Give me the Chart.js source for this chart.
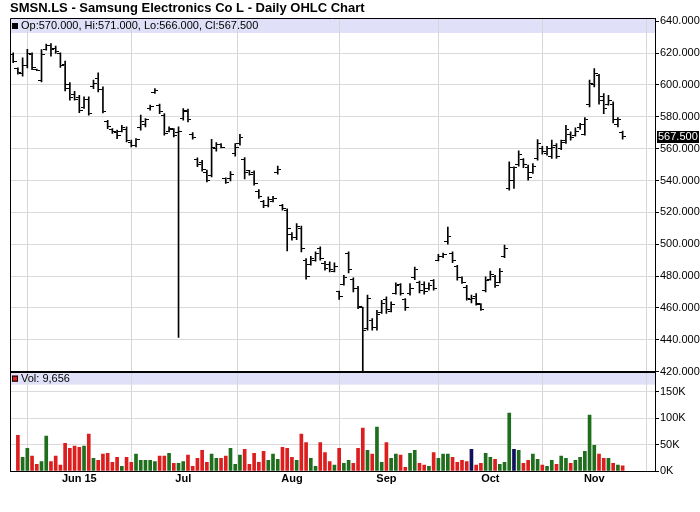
<!DOCTYPE html>
<html>
<head>
<meta charset="utf-8">
<title>SMSN.LS Daily OHLC</title>
<script src="https://cdn.jsdelivr.net/npm/chart.js@4.4.0/dist/chart.umd.min.js"></script>
<style>
    html, body { margin: 0; padding: 0; background: #fff; }
    #wrap { position: relative; width: 700px; height: 512px; }
</style>
</head>
<body>
<div id="wrap"><canvas id="ohlc"></canvas></div>
<script>
// trading days shown on the chart (LSE, 2015)
const dates = [
    "2015-05-11", "2015-05-12", "2015-05-13", "2015-05-14", "2015-05-15", "2015-05-18", "2015-05-19",
    "2015-05-20", "2015-05-21", "2015-05-22", "2015-05-26", "2015-05-27", "2015-05-28", "2015-05-29",
    "2015-06-01", "2015-06-02", "2015-06-03", "2015-06-04", "2015-06-05", "2015-06-08", "2015-06-09",
    "2015-06-10", "2015-06-11", "2015-06-12", "2015-06-15", "2015-06-16", "2015-06-17", "2015-06-18",
    "2015-06-19", "2015-06-22", "2015-06-23", "2015-06-24", "2015-06-25", "2015-06-26", "2015-06-29",
    "2015-06-30", "2015-07-01", "2015-07-02", "2015-07-03", "2015-07-06", "2015-07-07", "2015-07-08",
    "2015-07-09", "2015-07-10", "2015-07-13", "2015-07-14", "2015-07-15", "2015-07-16", "2015-07-17",
    "2015-07-20", "2015-07-21", "2015-07-22", "2015-07-23", "2015-07-24", "2015-07-27", "2015-07-28",
    "2015-07-29", "2015-07-30", "2015-07-31", "2015-08-03", "2015-08-04", "2015-08-05", "2015-08-06",
    "2015-08-07", "2015-08-10", "2015-08-11", "2015-08-12", "2015-08-13", "2015-08-14", "2015-08-17",
    "2015-08-18", "2015-08-19", "2015-08-20", "2015-08-21", "2015-08-24", "2015-08-25", "2015-08-26",
    "2015-08-27", "2015-08-28", "2015-09-01", "2015-09-02", "2015-09-03", "2015-09-04", "2015-09-07",
    "2015-09-08", "2015-09-09", "2015-09-10", "2015-09-11", "2015-09-14", "2015-09-15", "2015-09-16",
    "2015-09-17", "2015-09-18", "2015-09-21", "2015-09-22", "2015-09-23", "2015-09-24", "2015-09-25",
    "2015-09-28", "2015-09-29", "2015-09-30", "2015-10-01", "2015-10-02", "2015-10-05", "2015-10-06",
    "2015-10-07", "2015-10-08", "2015-10-09", "2015-10-12", "2015-10-13", "2015-10-14", "2015-10-15",
    "2015-10-16", "2015-10-19", "2015-10-20", "2015-10-21", "2015-10-22", "2015-10-23", "2015-10-26",
    "2015-10-27", "2015-10-28", "2015-10-29", "2015-10-30", "2015-11-02", "2015-11-03", "2015-11-04",
    "2015-11-05", "2015-11-06", "2015-11-09", "2015-11-10"
];

const opens = [
    619, 610, 607, 612, 619, 609.8, 603, 622.5, 625, 623,
    619.5, 613, 600, 594, 592, 586, 591, 599, 604, 597,
    577, 572, 570, 571, 572, 564, 562, 573, 575, 585,
    595.5, 587, 581, 571, 572, 570, 579, 583, 569, 553,
    551, 545, 543, 560, 562.5, 541, 541, 557, 563, 553,
    546, 545, 533, 527, 524, 527, 545, 524, 521, 506,
    504, 510, 490, 487.5, 490, 497, 488, 487, 483, 470,
    475, 494, 478, 472, 460, 447, 452, 448, 457, 465,
    458, 469, 474.5, 465, 469, 479, 476, 475, 472, 477,
    490, 492, 502, 494, 486, 479, 473, 465, 467, 462,
    471, 478, 480, 476, 492, 535, 540, 550, 553, 548,
    545, 554, 560, 557, 555, 562, 560, 565, 569, 568,
    573, 569, 588, 600, 606, 593, 588, 588, 575, 570
];
const highs = [
    620.1, 610.7, 617, 622.4, 620.1, 610, 622.2, 625.6, 626, 624.3,
    620.1, 614.9, 601.5, 596, 593.5, 592.5, 592.5, 603, 607.6, 598.8,
    577.8, 572.6, 571.6, 574.7, 573.7, 565.3, 566.3, 581, 578.9, 587.3,
    597.7, 587.9, 582, 573.7, 572.6, 573.7, 585.2, 584.8, 570.1, 554.2,
    552.7, 546.5, 565.9, 563.8, 563.2, 541.6, 545.6, 563.2, 568.9, 554.4,
    546.4, 546, 534.3, 527.6, 529.7, 530.1, 549, 525.1, 522.2, 507.3,
    513, 511.3, 491, 492.4, 495.2, 498.3, 489.3, 488.9, 488.3, 470.5,
    480.5, 495.2, 478.9, 473.6, 460.6, 468, 453.3, 458.5, 464.8, 466.9,
    463.8, 475.7, 475.3, 465.9, 475.3, 485.7, 476.8, 476.3, 475.7, 477.8,
    493.7, 494.5, 510.7, 495.2, 486.8, 479.5, 474.2, 468, 469, 462.7,
    479.5, 483.2, 480.5, 484.7, 499.4, 551.7, 548.5, 558.6, 553.8, 549.6,
    550.6, 565.7, 561.5, 561.5, 565.3, 563.2, 565.3, 574.7, 570.5, 573,
    575.8, 579.5, 603, 610.3, 606.7, 594.6, 593.5, 589.4, 579.5, 571
];
const lows = [
    614, 606.7, 605.5, 610.7, 609.6, 609, 601.9, 621.8, 618, 619.7,
    610.9, 596.2, 590.4, 590.4, 582.6, 585.2, 581, 597.7, 595.6, 582.4,
    572.6, 569.5, 566.3, 570.5, 564.2, 561.1, 561.1, 571.6, 573.7, 584.1,
    594.6, 582, 568.4, 570.5, 567.4, 441.5, 577.9, 576.8, 565.9, 548.6,
    545.8, 539.1, 542.3, 558.4, 560.5, 538.1, 539.8, 555.3, 562.2, 541,
    543.3, 537, 528.7, 523, 523.4, 526.6, 544, 521.3, 495.8, 502.5,
    502.9, 495.2, 478, 486.8, 489.3, 490, 483.7, 482.6, 482.6, 465.3,
    474.3, 482, 470.1, 459.6, 420.5, 446, 446, 446, 456.5, 456.5,
    457.5, 468.6, 468, 458.5, 468, 477.8, 469.4, 468.6, 471.1, 471.1,
    489.5, 491.5, 500, 488.4, 477.4, 475.3, 464.8, 463.1, 461.7, 458.5,
    470, 477.4, 472.8, 475.7, 491.6, 533.9, 535, 549, 548.1, 540.2,
    544.4, 552.7, 556.5, 555.9, 553.8, 553.8, 559.4, 563.2, 565.3, 567.8,
    572, 568.4, 586.2, 598.8, 587.9, 582, 587.3, 576.2, 573.7, 566
];
const closes = [
    615, 608, 612, 620, 611, 609.3, 619, 624.5, 622, 621,
    612, 598, 592, 591, 584, 591, 582, 601, 597, 583,
    574, 570.5, 568, 573, 565, 562, 565.5, 577, 578, 586.5,
    596.5, 583, 569.5, 572.5, 568, 571, 584, 578, 567, 550,
    547, 540, 561, 562.5, 561, 539, 544, 561, 567, 545,
    544, 538, 530, 524, 528, 529, 547, 522.5, 510, 504,
    511, 497, 480, 491, 494, 491, 485, 484, 486, 467,
    479, 484, 472, 461, 446, 466, 448, 456, 463, 459,
    462, 474, 469, 460, 472, 484, 471, 470, 474, 472,
    492, 493.5, 505, 490, 479, 476, 466, 466, 463, 459,
    477, 481, 474, 483, 497, 548, 548, 556, 550, 542,
    549, 563, 558, 560, 561, 555, 564, 572, 567, 571,
    575, 578, 601, 607, 590, 585, 590, 578, 578.5, 567.5
];
// first day has no volume bar
const volumes = [
    null, 67700, 26000, 43000, 28000, 12700, 18000, 66000, 18000, 28000,
    11000, 52500, 43000, 47000, 45000, 47000, 70000, 24000, 20000, 32000,
    33500, 16500, 26000, 9000, 26000, 16500, 32000, 20000, 20000, 20000,
    18000, 28000, 28000, 33500, 14500, 14500, 18000, 30000, 9000, 24000,
    39000, 16500, 32000, 24000, 24000, 28000, 43000, 12700, 30000, 41000,
    12700, 33500, 16500, 37000, 20000, 32000, 22000, 45000, 43000, 26000,
    20000, 70000, 54000, 24000, 9000, 54000, 35000, 18000, 11000, 43000,
    14500, 20000, 14500, 43000, 81000, 39000, 32000, 83000, 16500, 54000,
    24000, 32000, 30000, 7000, 33500, 39000, 14500, 11000, 9000, 35000,
    24000, 32000, 32000, 26000, 16500, 20000, 18000, 41000, 11000, 14500,
    33500, 26000, 22000, 12700, 16500, 109500, 41000, 39000, 14500, 20000,
    32000, 22000, 11000, 9000, 20000, 12700, 28000, 24000, 14500, 20000,
    26000, 37000, 105700, 48700, 32000, 24000, 24000, 14500, 11000, 9656
];

const priceTicks = [420, 440, 460, 480, 500, 520, 540, 560, 580, 600, 620, 640];
const volumeTicks = [0, 50000, 100000, 150000];
const volumeTickLabels = ["0K", "50K", "100K", "150K"];
const monthTickDates = ["2015-06-01", "2015-07-01", "2015-08-03", "2015-09-01", "2015-10-01", "2015-11-02"];
const monthTickLabels = ["Jun 15", "Jul", "Aug", "Sep", "Oct", "Nov"];

const FONT = "'Liberation Sans', Arial, sans-serif";
const UP = "#1e6e1e", DOWN = "#dc1e1e", FLAT = "#10105e";

// volume colour follows the close against the previous close
function volumeColor(i) {
    if (i === 0) return UP;
    if (closes[i] > closes[i - 1]) return UP;
    if (closes[i] < closes[i - 1]) return DOWN;
    return FLAT;
}

// small horizontal tick images for open (left) and close (right)
function tickImage(side) {
    const c = document.createElement("canvas");
    c.width = 7;
    c.height = 1;
    const g = c.getContext("2d");
    g.fillStyle = "#000";
    g.fillRect(side === "left" ? 0 : 4, 0, 3, 1);
    return c;
}

const monthIdx = monthTickDates.map(d => dates.indexOf(d));

const panelDecor = {
    id: "panelDecor",
    beforeDraw(chart) {
        const {ctx, chartArea} = chart;
        const py = chart.scales.y, vy = chart.scales.yVol;
        ctx.save();
        ctx.fillStyle = "#e0e0f8";
        ctx.fillRect(chartArea.left, py.top, chartArea.width, 15);
        ctx.fillRect(chartArea.left, vy.top, chartArea.width, 13);
        ctx.restore();
    },
    afterDraw(chart) {
        const {ctx, chartArea} = chart;
        const py = chart.scales.y, vy = chart.scales.yVol;
        const last = closes.length - 1;
        const left = Math.round(chartArea.left);

        ctx.save();
        ctx.strokeStyle = "#000";
        ctx.lineWidth = 1;
        ctx.beginPath();
        ctx.moveTo(left + 0.5, chartArea.bottom);
        ctx.lineTo(left + 0.5, Math.round(chartArea.top) + 0.5);
        ctx.lineTo(chartArea.right, Math.round(chartArea.top) + 0.5);
        ctx.stroke();

        ctx.lineWidth = 2;
        ctx.beginPath();
        ctx.moveTo(chartArea.left, Math.round(py.bottom));
        ctx.lineTo(chartArea.right, Math.round(py.bottom));
        ctx.stroke();

        ctx.font = "11px " + FONT;
        ctx.textBaseline = "middle";
        ctx.textAlign = "left";

        ctx.fillStyle = "#000";
        ctx.fillRect(left + 2, py.top + 5, 6, 6);
        ctx.fillText("Op:" + opens[last].toFixed(3) + ", Hi:" + highs[last].toFixed(3) +
            ", Lo:" + lows[last].toFixed(3) + ", Cl:" + closes[last].toFixed(3), left + 11, py.top + 8);

        ctx.fillStyle = volumeColor(last);
        ctx.fillRect(left + 2, vy.top + 4, 6, 6);
        ctx.strokeStyle = "#000";
        ctx.lineWidth = 1;
        ctx.strokeRect(left + 2.5, vy.top + 4.5, 5, 5);
        ctx.fillStyle = "#000";
        ctx.fillText("Vol: " + volumes[last].toLocaleString("en-US"), left + 11, vy.top + 7);

        // last price marker on the axis
        const yc = py.getPixelForValue(closes[last]);
        ctx.fillStyle = "#000";
        ctx.fillRect(chartArea.right + 2, Math.round(yc) - 6, 42, 12);
        ctx.fillStyle = "#fff";
        ctx.fillText(closes[last].toFixed(3), chartArea.right + 3, Math.round(yc));
        ctx.restore();
    }
};

const idx = dates.map((d, i) => i);

new Chart(document.getElementById("ohlc"), {
    type: "bar",
    data: {
        datasets: [
            {
                type: "scatter",
                data: idx.map(i => ({x: i, y: opens[i]})),
                yAxisID: "y",
                pointStyle: tickImage("left"),
                pointRadius: 3,
                order: 0
            },
            {
                type: "scatter",
                data: idx.map(i => ({x: i, y: closes[i]})),
                yAxisID: "y",
                pointStyle: tickImage("right"),
                pointRadius: 3,
                order: 0
            },
            {
                data: idx.map(i => ({x: i, y: [lows[i], highs[i]]})),
                yAxisID: "y",
                backgroundColor: "#000",
                barThickness: 1,
                grouped: false,
                order: 1
            },
            {
                data: idx.map(i => ({x: i, y: volumes[i]})),
                yAxisID: "yVol",
                backgroundColor: idx.map(i => volumeColor(i)),
                barThickness: 3,
                grouped: false,
                order: 2
            }
        ]
    },
    options: {
        responsive: true,
        maintainAspectRatio: false,
        animation: false,
        events: [],
        layout: {padding: {left: 10, right: 0, top: 0, bottom: 0}},
        font: {family: FONT},
        plugins: {
            legend: {display: false},
            tooltip: {enabled: false},
            title: {
                display: true,
                text: "SMSN.LS - Samsung Electronics Co L - Daily OHLC Chart",
                align: "start",
                color: "#000",
                font: {family: FONT, size: 13, weight: "bold"},
                padding: {top: 1, bottom: 1.4}
            }
        },
        scales: {
            x: {
                type: "linear",
                min: -0.67,
                max: 135.85,
                offset: false,
                afterBuildTicks: s => { s.ticks = monthIdx.map(v => ({value: v})); },
                afterFit: s => { s.height = 41; },
                ticks: {
                    autoSkip: false,
                    maxRotation: 0,
                    padding: 1,
                    color: "#000",
                    font: {family: FONT, size: 11, weight: "bold"},
                    callback: (v, i) => monthTickLabels[i]
                },
                grid: {color: "#d6d6d6", drawTicks: false},
                border: {color: "#000"}
            },
            y: {
                type: "linear",
                position: "right",
                stack: "panels",
                stackWeight: 353.4,
                min: 420,
                max: 642,
                afterBuildTicks: s => { s.ticks = priceTicks.map(v => ({value: v})); },
                afterFit: s => { s.width = 45; },
                ticks: {
                    padding: 1,
                    color: "#000",
                    font: {family: FONT, size: 11},
                    callback: v => Number(v).toFixed(3)
                },
                grid: {
                    color: c => (c.tick && c.tick.value === 640) ? "rgba(0,0,0,0)" : "#dadada",
                    tickColor: "#000",
                    tickLength: 4
                },
                border: {color: "#000"}
            },
            yVol: {
                type: "linear",
                position: "right",
                stack: "panels",
                stackWeight: 99.3,
                min: 0,
                max: 188000,
                afterBuildTicks: s => { s.ticks = volumeTicks.map(v => ({value: v})); },
                afterFit: s => { s.width = 45; },
                ticks: {
                    padding: 1,
                    color: "#000",
                    font: {family: FONT, size: 11},
                    callback: (v, i) => volumeTickLabels[i]
                },
                grid: {color: "#dadada", tickColor: "#000", tickLength: 4},
                border: {color: "#000"}
            }
        }
    },
    plugins: [panelDecor]
});
</script>
</body>
</html>
